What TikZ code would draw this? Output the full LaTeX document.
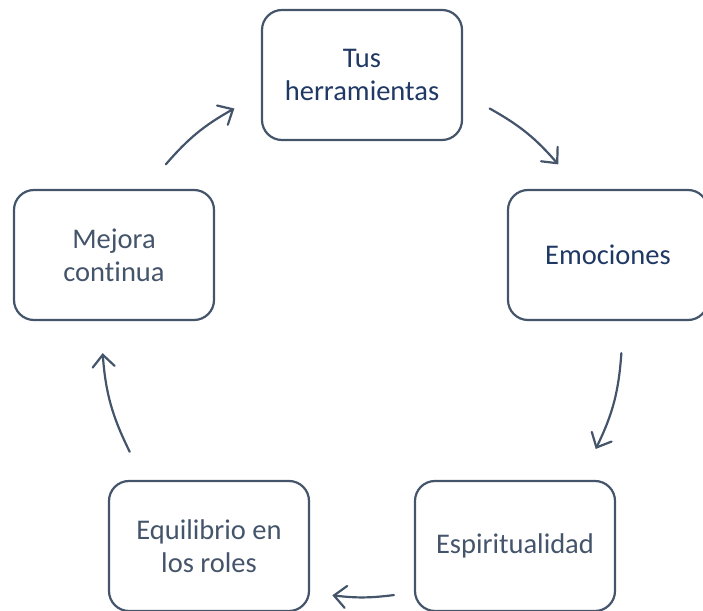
\documentclass[tikz,border=0pt]{standalone}
\usepackage{fontspec}
\setmainfont{Carlito}[Ligatures=NoCommon]
\usetikzlibrary{arrows.meta}
\definecolor{boxline}{HTML}{44546A}
\definecolor{navytext}{HTML}{1F3864}

\begin{document}
\begin{tikzpicture}[x=1pt,y=1pt,
  stage/.style={draw=boxline, line width=2.2pt, rounded corners=20pt,
    minimum width=200pt, minimum height=130pt, align=center,
    text=boxline, font=\fontsize{28.5}{33}\selectfont},
  cyc/.style={draw=boxline, line width=2.2pt, line cap=round,
    -{Straight Barb[length=12pt,width=22pt,line cap=round]}}]
  \clip (0,0) rectangle (703,610);

  \node[stage, text=navytext] (tools) at (362,535) {Tus\\herramientas};
  \node[stage, text=navytext] (emo) at (608,355) {Emociones};
  \node[stage] (spirit) at (515,64) {Espiritualidad};
  \node[stage] (roles) at (209,64) {Equilibrio en\\los roles};
  \node[stage] (better) at (114,355) {Mejora\\continua};

  % arrows sit on a circle round the middle
  \coordinate (c) at (362,275);
  \path (c) ++(60.6:260) coordinate (a1);
  \path (c) ++(41:260) coordinate (b1);
  \path (c) ++(-4:260) coordinate (a2);
  \path (c) ++(-26:260) coordinate (b2);
  \path (c) ++(-83:262) coordinate (a3);
  \path (c) ++(-96.5:262) coordinate (b3);
  \path (c) ++(206.7:260) coordinate (a4);
  \path (c) ++(184:260) coordinate (b4);
  \path (c) ++(139:260) coordinate (a5);
  \path (c) ++(119.4:260) coordinate (b5);

  \draw[cyc] (a1) to[bend left=10] (b1);
  \draw[cyc] (a2) to[bend left=11] (b2);
  \draw[cyc] (a3) to[bend left=7] (b3);
  \draw[cyc] (a4) to[bend left=11] (b4);
  \draw[cyc] (a5) to[bend left=10] (b5);
\end{tikzpicture}
\end{document}
